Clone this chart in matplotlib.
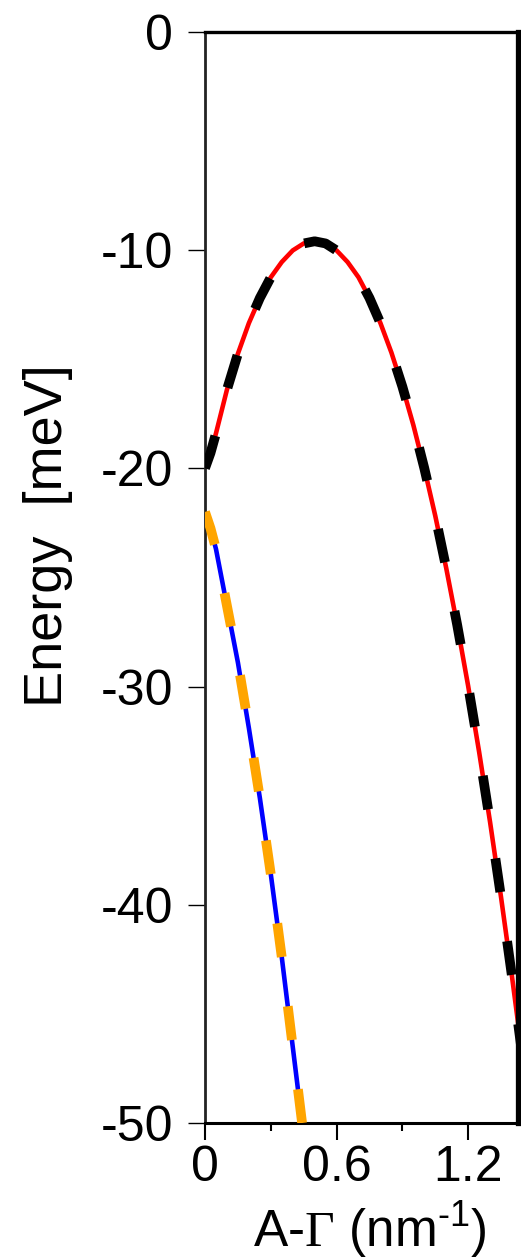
import matplotlib
matplotlib.use("Agg")
import matplotlib.pyplot as plt
from matplotlib.ticker import FixedLocator

plt.rcParams["font.family"] = ["Liberation Sans", "DejaVu Sans"]
plt.rcParams["axes.unicode_minus"] = False
plt.rcParams["mathtext.fontset"] = "custom"
plt.rcParams["mathtext.rm"] = "Liberation Sans"
plt.rcParams["mathtext.sf"] = "Liberation Serif"

# Upper band (A-Gamma direction), energy in meV
k_upper = [0.00, 0.025, 0.05, 0.10, 0.15, 0.20, 0.25, 0.30, 0.35, 0.40, 0.45,
           0.50, 0.55, 0.60, 0.65, 0.70, 0.75, 0.80, 0.85, 0.90, 0.95, 1.00,
           1.05, 1.10, 1.15, 1.20, 1.25, 1.30, 1.35, 1.40, 1.45]
e_upper = [-20.0, -19.3, -18.4, -16.4, -14.75, -13.35, -12.2, -11.25, -10.55,
           -10.02, -9.7, -9.6, -9.7, -10.02, -10.55, -11.25, -12.2, -13.35,
           -14.7, -16.26, -18.02, -20.0, -22.18, -24.58, -27.18, -29.98,
           -33.0, -36.22, -39.66, -43.3, -47.14]

# Lower band
k_lower = [0.00, 0.025, 0.05, 0.10, 0.15, 0.20, 0.25, 0.30, 0.35, 0.40, 0.45]
e_lower = [-22.0, -22.75, -23.7, -26.3, -28.9, -31.9, -35.1, -38.6, -42.4,
           -46.5, -50.6]

x_major = [0, 0.6, 1.2]
x_minor = [0.3, 0.9]
x_ticklabels = ["0", "0.6", "1.2"]
y_ticks = [0, -10, -20, -30, -40, -50]
y_ticklabels = ["0", "-10", "-20", "-30", "-40", "-50"]

fig = plt.figure(figsize=(5.21, 12.6), dpi=100)
ax = fig.add_axes([0.3935, 0.1087, 0.5998, 0.8661])

# Solid model bands with dashed overlays
ax.plot(k_upper, e_upper, color="red", lw=3.3, solid_capstyle="butt", zorder=2)
ax.plot(k_upper, e_upper, color="black", lw=7, dashes=(3.5, 5.1),
        dash_capstyle="butt", zorder=3)
ax.plot(k_lower, e_lower, color="blue", lw=3.3, solid_capstyle="butt", zorder=2)
ax.plot(k_lower, e_lower, color="orange", lw=7, dashes=(3.5, 5.1),
        dash_capstyle="butt", zorder=3)

ax.set_xlim(0, 1.425)
ax.set_ylim(-50, 0)

ax.xaxis.set_major_locator(FixedLocator(x_major))
ax.xaxis.set_minor_locator(FixedLocator(x_minor))
ax.set_xticklabels(x_ticklabels)
ax.set_yticks(y_ticks)
ax.set_yticklabels(y_ticklabels)

ax.tick_params(axis="x", which="major", direction="out", length=12, width=1.5,
               labelsize=36, pad=4, colors="black")
ax.tick_params(axis="x", which="minor", direction="out", length=6, width=1.5)
ax.tick_params(axis="y", which="major", direction="out", length=12, width=1.0,
               labelsize=36, pad=11)

ax.spines["left"].set_linewidth(2.0)
ax.spines["left"].set_color("#222222")
ax.spines["bottom"].set_linewidth(2.2)
ax.spines["top"].set_linewidth(2.4)
ax.spines["right"].set_linewidth(3.8)

ax.set_ylabel("Energy  [meV]", fontsize=39)
ax.yaxis.set_label_coords(-0.422, 0.538)
ax.set_xlabel(r"A-$\mathsf{\Gamma}$ (nm$^{\text{-1}}$)", fontsize=37)
ax.xaxis.set_label_coords(0.526, -0.07)

fig.savefig("out.png", dpi=100)
